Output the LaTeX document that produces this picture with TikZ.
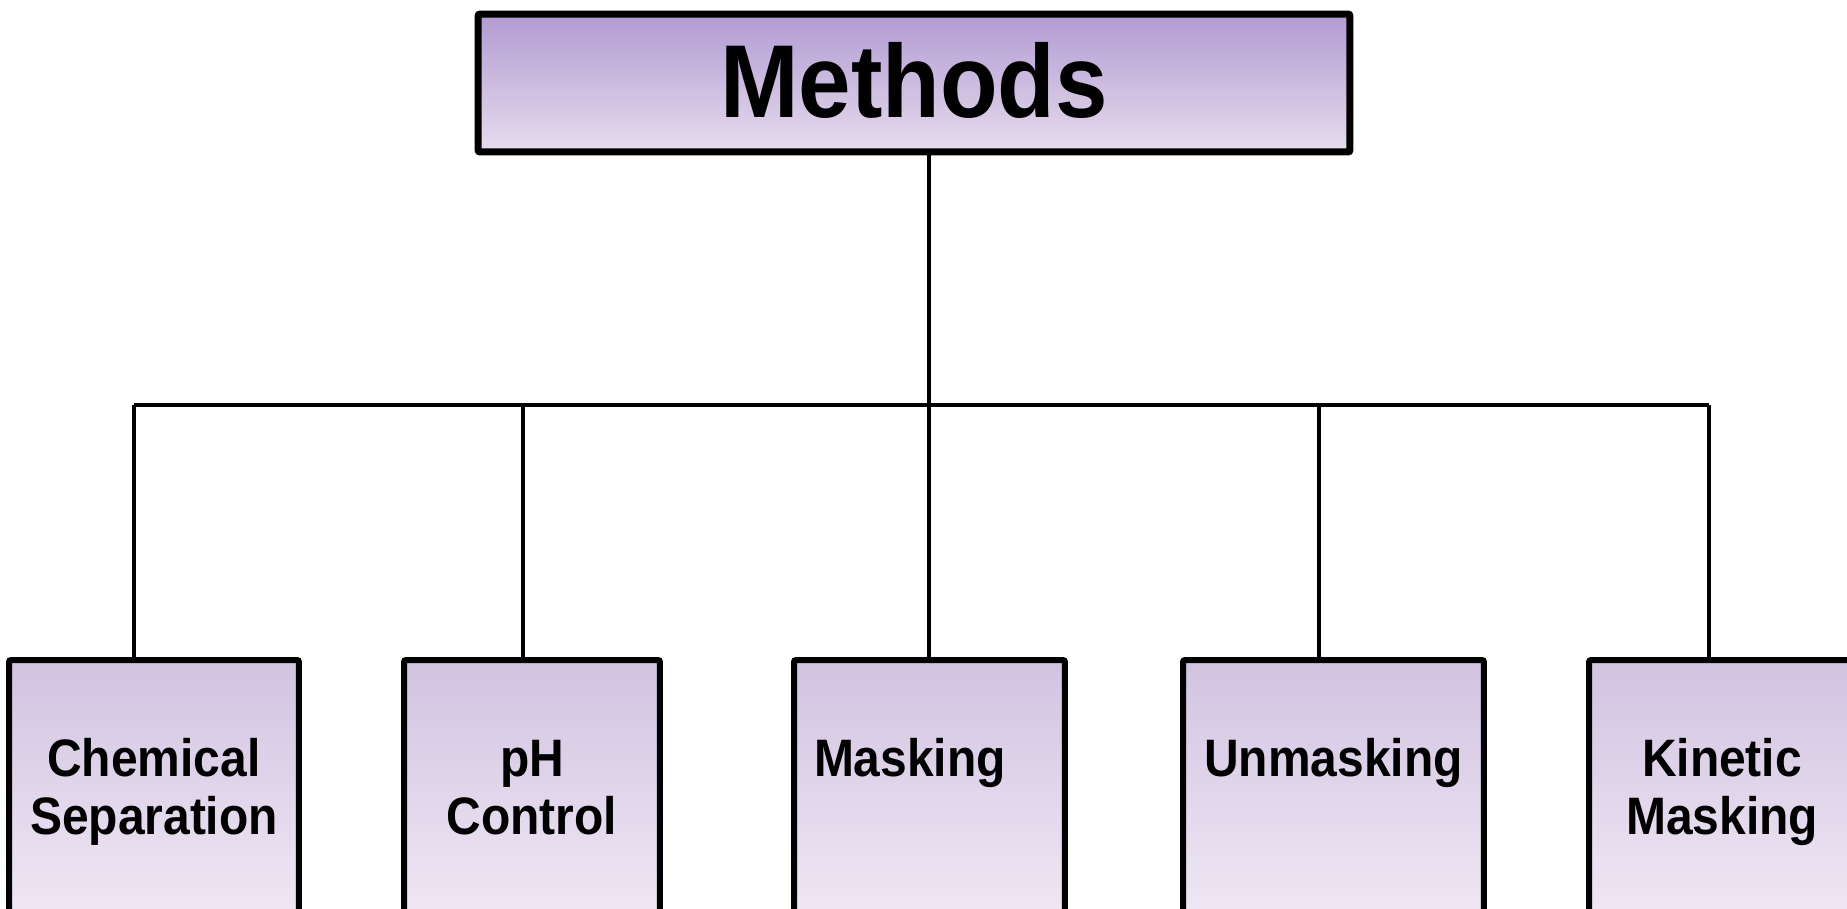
\documentclass[tikz,border=0pt]{standalone}
\usepackage{fontspec}
\setmainfont{Liberation Sans}[FakeStretch=0.91]
\usetikzlibrary{positioning,calc}
\definecolor{headTop}{HTML}{B29BD3}
\definecolor{headBot}{HTML}{E7DCED}
\definecolor{boxTop}{HTML}{D2C3E1}
\definecolor{boxBot}{HTML}{F0E9F5}

\begin{document}
\begin{tikzpicture}[
    x=0.02cm, y=-0.02cm,
    head/.style={rectangle, draw, line width=0.14cm, rounded corners=0.04cm, top color=headTop, bottom color=headBot, minimum width=17.44cm, minimum height=2.76cm, text depth=0.14cm, font=\fontsize{59}{60}\selectfont\bfseries},
    method/.style={rectangle, draw, line width=0.12cm, rounded corners=0.04cm, top color=boxTop, bottom color=boxBot, minimum height=5.36cm, align=center, font=\fontsize{30}{33}\selectfont\bfseries},
    link/.style={line width=0.09cm}
]
    \useasboundingbox (0,0) rectangle (1847,909);
    \clip (0,0) rectangle (1847,909);

    % Root
    \node[head] (methods) at (914,83) {Methods};

    % Bus
    \coordinate (hub) at (929,405);
    \coordinate (b1) at (134,405);
    \coordinate (b2) at (523,405);
    \coordinate (b3) at (929,405);
    \coordinate (b4) at (1319,405);
    \coordinate (b5) at (1709,405);

    % Level 1
    \node[method, minimum width=5.8cm] (chem) at (154,794) {Chemical\strut\\Separation\strut};
    \node[method, minimum width=5.12cm] (ph) at (532,794) {pH\strut\\Control\strut};
    \node[method, minimum width=5.42cm, text width=4.62cm, inner xsep=0.4cm, align=left] (mask) at (929.5,794) {Masking\strut\\\strut};
    \node[method, minimum width=6.02cm] (unmask) at (1333.5,794) {Unmasking\strut\\\strut};
    \node[method, minimum width=5.32cm] (kinetic) at (1722,794) {Kinetic\strut\\Masking\strut};

    % Edges
    \draw[link] (methods.south -| hub) -- (hub);
    \draw[link] (b1) -- (b5);
    \draw[link] (b1) -- (b1 |- chem.north);
    \draw[link] (b2) -- (b2 |- ph.north);
    \draw[link] (b3) -- (b3 |- mask.north);
    \draw[link] (b4) -- (b4 |- unmask.north);
    \draw[link] (b5) -- (b5 |- kinetic.north);

\end{tikzpicture}
\end{document}
